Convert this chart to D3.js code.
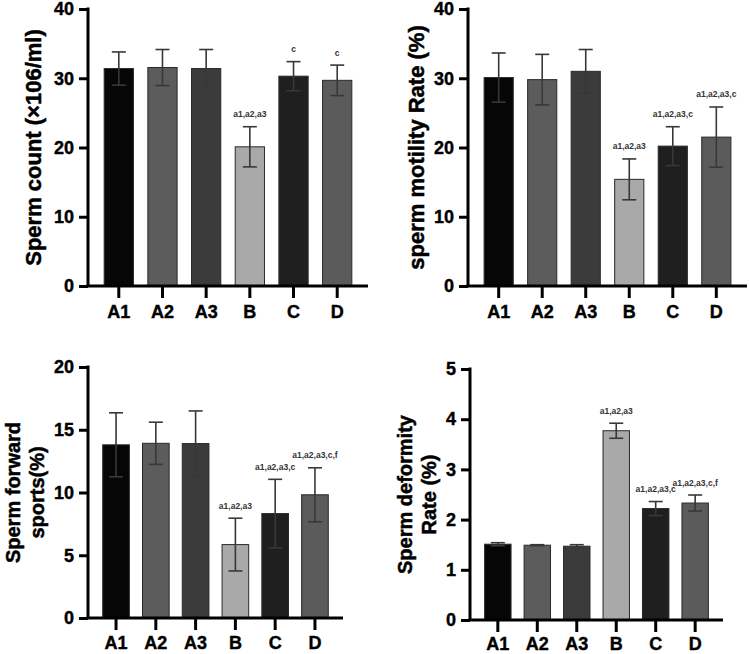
<!DOCTYPE html>
<html>
<head>
<meta charset="utf-8">
<script src="https://cdn.jsdelivr.net/npm/d3@7"></script>
<style>
  html, body { margin: 0; padding: 0; background: #fff; }
  svg { display: block; }
  text { font-family: Arial, "Liberation Sans", Helvetica, sans-serif; }
</style>
</head>
<body>
<svg id="chart" width="749" height="654"></svg>
<script>
// ---------- DATA ----------
const groups = ["A1", "A2", "A3", "B", "C", "D"];

const countMean = [31.4, 31.55, 31.4, 20.1, 30.3, 29.7];
const countErr  = [2.4, 2.6, 2.75, 2.9, 2.1, 2.2];
const countSig  = ["", "", "", "a1,a2,a3", "c", "c"];
const countTicks = [0, 10, 20, 30, 40];

const motilityMean = [30.1, 29.8, 31.0, 15.4, 20.2, 21.5];
const motilityErr  = [3.55, 3.65, 3.15, 2.95, 2.8, 4.35];
const motilitySig  = ["", "", "", "a1,a2,a3", "a1,a2,a3,c", "a1,a2,a3,c"];
const motilityTicks = [0, 10, 20, 30, 40];

const forwardMean = [13.8, 13.92, 13.9, 5.85, 8.32, 9.82];
const forwardErr  = [2.55, 1.68, 2.6, 2.1, 2.73, 2.15];
const forwardSig  = ["", "", "", "a1,a2,a3", "a1,a2,a3,c", "a1,a2,a3,c,f"];
const forwardTicks = [0, 5, 10, 15, 20];

const deformMean = [1.51, 1.49, 1.47, 3.77, 2.22, 2.33];
const deformErr  = [0.03, 0.01, 0.03, 0.15, 0.14, 0.16];
const deformSig  = ["", "", "", "a1,a2,a3", "a1,a2,a3,c", "a1,a2,a3,c,f"];
const deformTicks = [0, 1, 2, 3, 4, 5];

const barFills = ["#060606", "#5c5c5c", "#3b3b3b", "#a9a9a9", "#1f1f1f", "#5b5b5b"];

// ---------- LAYOUT ----------
const panels = [
  { mean: countMean, err: countErr, sig: countSig, ticks: countTicks, max: 40,
    x0: 88, x1: 368, yTop: 9, yBot: 286, labelLines: ["Sperm count (×106/ml)"],
    labelX: [33], labelFont: 22, xPad: 7 },
  { mean: motilityMean, err: motilityErr, sig: motilitySig, ticks: motilityTicks, max: 40,
    x0: 468, x1: 747, yTop: 9, yBot: 286, labelLines: ["sperm motility Rate (%)"],
    labelX: [416], labelFont: 22, xPad: 7 },
  { mean: forwardMean, err: forwardErr, sig: forwardSig, ticks: forwardTicks, max: 20,
    x0: 88, x1: 343, yTop: 367, yBot: 618, labelLines: ["Sperm forward", "sports(%)"],
    labelX: [13, 37], labelFont: 20, xPad: 6 },
  { mean: deformMean, err: deformErr, sig: deformSig, ticks: deformTicks, max: 5,
    x0: 470, x1: 723, yTop: 369, yBot: 620, labelLines: ["Sperm deformity", "Rate (%)"],
    labelX: [405, 429], labelFont: 20, xPad: 5 }
];

const svg = d3.select("#chart");

panels.forEach(p => {
  const g = svg.append("g");
  const x = d3.scaleBand().domain(groups).range([p.x0, p.x1])
    .paddingInner(0.33).paddingOuter(0.37);
  const y = d3.scaleLinear().domain([0, p.max]).range([p.yBot, p.yTop]);

  // bars
  g.selectAll("rect.bar").data(groups).join("rect")
    .attr("class", "bar")
    .attr("x", d => x(d))
    .attr("width", x.bandwidth())
    .attr("y", (d, i) => y(p.mean[i]))
    .attr("height", (d, i) => y(0) - y(p.mean[i]))
    .attr("fill", (d, i) => barFills[i])
    .attr("stroke", "#2a2a2a")
    .attr("stroke-width", 1);

  // error bars
  const capW = 14;
  const eb = g.selectAll("g.err").data(groups).join("g").attr("class", "err")
    .attr("stroke", "#383838").attr("stroke-width", 1.6).attr("fill", "none");
  eb.append("line")
    .attr("x1", d => x(d) + x.bandwidth() / 2)
    .attr("x2", d => x(d) + x.bandwidth() / 2)
    .attr("y1", (d, i) => y(p.mean[i] - p.err[i]))
    .attr("y2", (d, i) => y(p.mean[i] + p.err[i]));
  eb.append("line")
    .attr("x1", d => x(d) + x.bandwidth() / 2 - capW / 2)
    .attr("x2", d => x(d) + x.bandwidth() / 2 + capW / 2)
    .attr("y1", (d, i) => y(p.mean[i] + p.err[i]))
    .attr("y2", (d, i) => y(p.mean[i] + p.err[i]));
  eb.append("line")
    .attr("x1", d => x(d) + x.bandwidth() / 2 - capW / 2)
    .attr("x2", d => x(d) + x.bandwidth() / 2 + capW / 2)
    .attr("y1", (d, i) => y(p.mean[i] - p.err[i]))
    .attr("y2", (d, i) => y(p.mean[i] - p.err[i]));

  // significance labels
  g.selectAll("text.sig").data(groups).join("text")
    .attr("class", "sig")
    .attr("x", d => x(d) + x.bandwidth() / 2)
    .attr("y", (d, i) => y(p.mean[i] + p.err[i]) - 12.5)
    .attr("text-anchor", "middle")
    .attr("dominant-baseline", "central")
    .attr("font-size", 8.5)
    .attr("font-weight", "bold")
    .attr("fill", "#333")
    .text((d, i) => p.sig[i]);

  // y axis
  const ya = g.append("g").attr("transform", `translate(${p.x0},0)`)
    .call(d3.axisLeft(y).tickValues(p.ticks).tickSizeOuter(0).tickSize(9).tickPadding(5).tickFormat(d3.format("d")));
  ya.select(".domain").attr("stroke", "#000").attr("stroke-width", 3)
    .attr("d", `M0,${p.yTop - 1.5}V${p.yBot}`);
  ya.selectAll(".tick line").attr("stroke", "#000").attr("stroke-width", 3);
  ya.selectAll(".tick text").attr("font-size", 18).attr("font-weight", "bold").attr("fill", "#000")
    .attr("stroke", "#000").attr("stroke-width", 0.4)
    .attr("font-family", "Arial, 'Liberation Sans', Helvetica, sans-serif");

  // x axis
  const xa = g.append("g").attr("transform", `translate(0,${p.yBot})`)
    .call(d3.axisBottom(x).tickSizeOuter(0).tickSize(12).tickPadding(p.xPad));
  xa.select(".domain").attr("stroke", "#000").attr("stroke-width", 3)
    .attr("d", `M${p.x0 - 1.5},0H${p.x1}`);
  xa.selectAll(".tick line").attr("stroke", "#000").attr("stroke-width", 3);
  xa.selectAll(".tick text").attr("font-size", 18).attr("font-weight", "bold").attr("fill", "#000")
    .attr("stroke", "#000").attr("stroke-width", 0.4)
    .attr("font-family", "Arial, 'Liberation Sans', Helvetica, sans-serif");

  // y label
  const cy = (p.yTop + p.yBot) / 2;
  p.labelLines.forEach((line, k) => {
    g.append("text")
      .attr("transform", `translate(${p.labelX[k]},${cy}) rotate(-90)`)
      .attr("text-anchor", "middle")
      .attr("dominant-baseline", "central")
      .attr("font-size", p.labelFont)
      .attr("font-weight", "bold")
      .attr("fill", "#000")
      .attr("stroke", "#000").attr("stroke-width", 0.5)
      .text(line);
  });
});
</script>
</body>
</html>
